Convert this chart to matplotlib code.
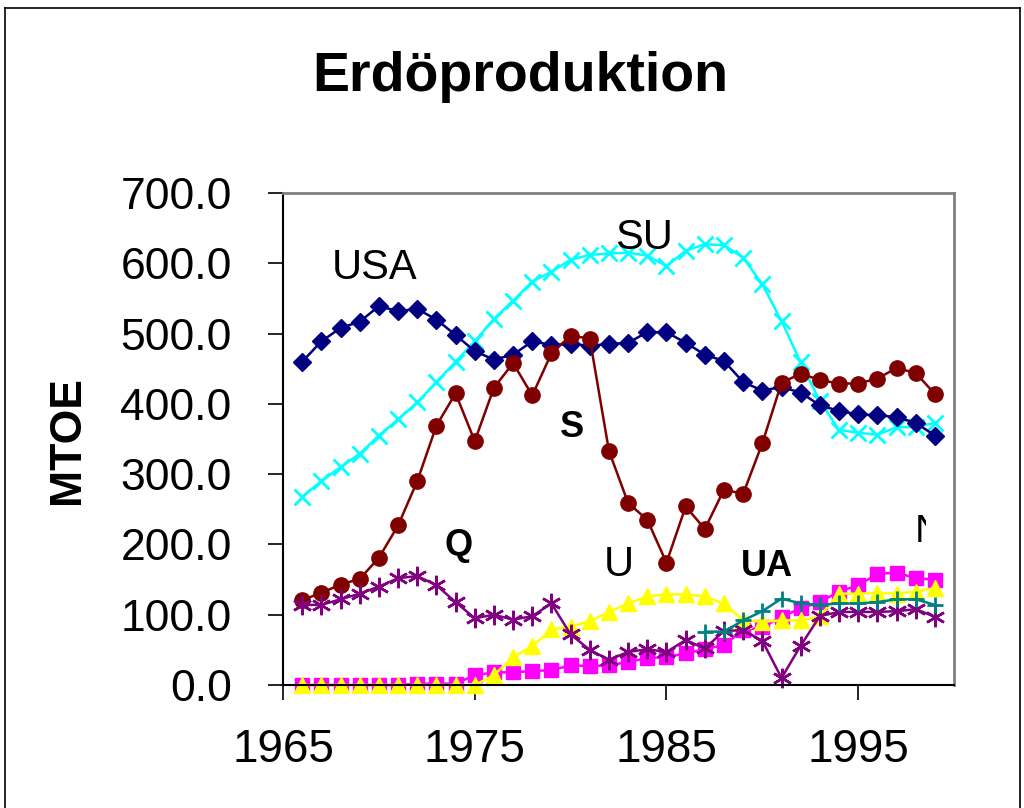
import matplotlib
matplotlib.use("Agg")
import matplotlib.pyplot as plt
import numpy as np
from matplotlib.patches import Rectangle
from matplotlib.lines import Line2D

plt.rcParams['font.family'] = ['Liberation Sans', 'DejaVu Sans']

years = list(range(1966, 2000))

usa = [460, 489, 508, 517, 539, 532, 535, 520, 498, 475, 463, 470, 489, 484, 485, 483, 485,
       487, 502, 502, 487, 470, 461, 431, 419, 424, 416, 398, 390, 385, 384, 381, 373, 355]
su = [268, 290, 310, 329, 355, 378, 402, 431, 460, 489, 521, 547, 574, 588, 605, 612, 614,
      615, 611, 596, 618, 627, 626, 608, 570, 518, 459, 404, 363, 359, 356, 367, 367, 373]
s = [121, 131, 143, 151, 181, 227, 290, 369, 415, 347, 423, 458, 412, 472, 497, 493, 333,
     259, 235, 174, 254, 222, 278, 272, 344, 430, 443, 434, 429, 429, 436, 451, 444, 414]
q = [114, 114, 122, 130, 140, 152, 155, 142, 118, 95, 100, 93, 98, 116, 72, 50, 36,
     47, 51, 47, 64, 52, 77, 78, 63, 10, 56, 98, 104, 104, 104, 105, 108, 97]
n = [0, 0, 0, 0, 0, 0, 2, 2, 2, 14, 18, 18, 20, 21, 28, 27, 28,
     33, 38, 40, 45, 51, 57, 78, 82, 97, 109, 118, 133, 142, 158, 160, 152, 150]
u = [0, 0, 0, 0, 0, 0, 0, 0, 0, 0, 14, 40, 55, 79, 83, 91, 104,
     116, 126, 129, 129, 126, 116, 92, 90, 92, 92, 98, 130, 130, 131, 130, 133, 138]
ua = [np.nan] * 21 + [76, 76, 92, 105, 123, 116, 114, 116, 116, 118, 122, 122, 114]

fig = plt.figure(figsize=(10.24, 8.08), dpi=100)
ax = fig.add_axes([0.2764, 0.1522, 0.6553, 0.6089])

lw = 1.8
ax.plot(years, su, color='#00FFFF', marker='x', ms=12, mew=2, lw=lw, clip_on=False)
ax.plot(years, usa, color='#000080', marker='D', ms=9, lw=lw, clip_on=False)
ax.plot(years, s, color='#800000', marker='o', ms=11, lw=lw, clip_on=False)
ax.plot(years, n, color='#FF00FF', marker='s', ms=10, lw=lw, clip_on=False)
ax.plot(years, u, color='#FFFF00', marker='^', ms=11.5, lw=lw, clip_on=False)
ax.plot(years, q, color='#800080', marker=(6, 2, 0), ms=14, mew=1.8, lw=lw, clip_on=False)
ax.plot(years, ua, color='#008080', marker='+', ms=12, mew=2, lw=lw, clip_on=False)

ax.set_xlim(1965, 2000)
ax.set_ylim(0, 700)
ax.set_xticks([1965, 1975, 1985, 1995])
ax.set_yticks(range(0, 701, 100))
ax.set_yticklabels(['%.1f' % v for v in range(0, 701, 100)])
ax.tick_params(axis='y', direction='out', length=11, width=1.2, labelsize=32, pad=26)
ax.tick_params(axis='x', direction='out', length=11, width=1.2, labelsize=33, pad=20)

for side in ['top', 'right']:
    ax.spines[side].set_color('#808080')
    ax.spines[side].set_linewidth(2)
for side in ['left', 'bottom']:
    ax.spines[side].set_color('black')
    ax.spines[side].set_linewidth(1.5)

# series labels
ax.text(1969.8, 593, 'USA', fontsize=30, ha='center', va='center')
ax.text(1983.85, 636, 'SU', fontsize=30, ha='center', va='center')
ax.text(1980.05, 366, 'S', fontsize=26, fontweight='bold', ha='center', va='center')
ax.text(1974.17, 198, 'Q', fontsize=26, fontweight='bold', ha='center', va='center')
ax.text(1982.5, 171, 'U', fontsize=30, ha='center', va='center')
ax.text(1990.26, 168, 'UA', fontsize=26, fontweight='bold', ha='center', va='center')
t = ax.text(1998.7, 218, 'N', fontsize=28, ha='center', va='center')
clip = Rectangle((0, 0), (1998.55 - 1965) / 35, 1, transform=ax.transAxes,
                 facecolor='none', edgecolor='none')
ax.add_patch(clip)
t.set_clip_path(clip)
t.set_clip_on(True)

fig.text(0.508, 0.905, 'Erdöproduktion', fontsize=40, fontweight='bold', ha='center', va='center')
fig.text(68 / 1024, 1 - 440 / 808, 'MTOE', fontsize=32, fontweight='bold', rotation=90,
         ha='center', va='center')

# outer frame
for xs, ys in [([5, 5], [0, 800]), ([5, 1020], [800, 800]), ([1020, 1020], [800, 0])]:
    fig.add_artist(Line2D([x / 1024 for x in xs], [y / 808 for y in ys], color='black', lw=1.2))

fig.savefig('out.png', dpi=100)
